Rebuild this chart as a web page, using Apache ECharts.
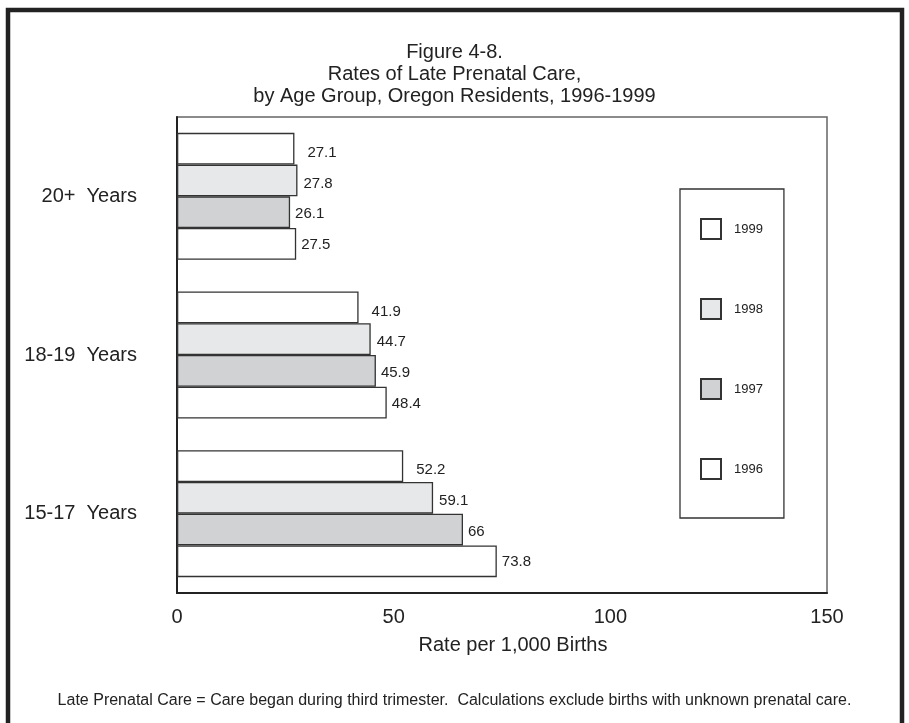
<!DOCTYPE html>
<html>
<head>
<meta charset="utf-8">
<title>Rates of Late Prenatal Care</title>
<script src="https://cdn.jsdelivr.net/npm/echarts@6/dist/echarts.min.js"></script>
<style>
  html, body { margin: 0; padding: 0; background: #fff; }
  #chart { width: 909px; height: 723px; }
</style>
</head>
<body>
<div id="chart"></div>
<script>
// Age groups, listed bottom to top on the category axis
const ageGroups = ['15-17  Years', '18-19  Years', '20+  Years'];

// Late prenatal care rate per 1,000 births, by year (same order as ageGroups)
const rate1999 = [52.2, 41.9, 27.1];
const rate1998 = [59.1, 44.7, 27.8];
const rate1997 = [66, 45.9, 26.1];
const rate1996 = [73.8, 48.4, 27.5];

const years = ['1999', '1998', '1997', '1996'];
const xTicks = [0, 50, 100, 150];

const FONT = "'Liberation Sans', Arial, sans-serif";
const INK = '#222';

const fills = { '1999': '#ffffff', '1998': '#e7e8e9', '1997': '#d1d2d4', '1996': '#ffffff' };
const labelGap = { '1999': 13, '1998': 6, '1997': 5, '1996': 5 };
const labelDrop = { '1999': 4, '1998': 3, '1997': 2, '1996': 1 };

function barSeries(name, values) {
  return {
    name: name,
    type: 'bar',
    data: values,
    barGap: '0%',
    barCategoryGap: '20%',
    itemStyle: { color: fills[name], borderColor: '#333', borderWidth: 1.3 },
    label: {
      show: true,
      position: 'right',
      distance: labelGap[name],
      offset: [0, labelDrop[name]],
      color: INK,
      fontFamily: FONT,
      fontSize: 15
    },
    emphasis: { disabled: true }
  };
}

const chart = echarts.init(document.getElementById('chart'), null, { renderer: 'canvas' });

chart.setOption({
  animation: false,
  backgroundColor: '#fff',
  title: [
    {
      text: 'Figure 4-8.\nRates of Late Prenatal Care,\nby Age Group, Oregon Residents, 1996-1999',
      left: 'center',
      top: 41,
      padding: 0,
      textStyle: { fontFamily: FONT, fontSize: 20, fontWeight: 'normal', color: INK, lineHeight: 22, align: 'center' }
    },
    {
      text: 'Late Prenatal Care = Care began during third trimester.  Calculations exclude births with unknown prenatal care.',
      left: 'center',
      top: 693,
      padding: 0,
      textStyle: { fontFamily: FONT, fontSize: 16, fontWeight: 'normal', color: INK }
    }
  ],
  graphic: [
    {
      type: 'rect',
      shape: { x: 8, y: 10, width: 894, height: 800 },
      style: { fill: 'none', stroke: '#222', lineWidth: 4.5 },
      silent: true
    }
  ],
  legend: {
    data: years,
    orient: 'vertical',
    left: 680,
    top: 189,
    padding: [29, 21, 38, 20],
    itemWidth: 20,
    itemHeight: 20,
    itemGap: 58,
    icon: 'rect',
    borderColor: '#333',
    borderWidth: 1.3,
    selectedMode: false,
    textStyle: { fontFamily: FONT, fontSize: 13, color: INK, padding: [0, 0, 0, 8] }
  },
  grid: {
    left: 177,
    right: 82,
    top: 117,
    bottom: 130,
    show: true,
    borderColor: '#666',
    borderWidth: 1.5,
    containLabel: false
  },
  xAxis: {
    type: 'value',
    min: xTicks[0],
    max: xTicks[xTicks.length - 1],
    interval: xTicks[1] - xTicks[0],
    name: 'Rate per 1,000 Births',
    nameLocation: 'middle',
    nameGap: 42,
    nameTextStyle: { fontFamily: FONT, fontSize: 20, color: INK, padding: [0, 0, 0, 22] },
    axisLine: { show: true, lineStyle: { color: '#222', width: 2 } },
    axisTick: { show: false },
    splitLine: { show: false },
    axisLabel: { fontFamily: FONT, fontSize: 20, color: INK, margin: 14 }
  },
  yAxis: {
    type: 'category',
    data: ageGroups,
    axisLine: { show: true, lineStyle: { color: '#222', width: 2 } },
    axisTick: { show: false },
    splitLine: { show: false },
    axisLabel: { fontFamily: FONT, fontSize: 20, color: INK, margin: 40 }
  },
  series: [
    barSeries('1999', rate1999),
    barSeries('1998', rate1998),
    barSeries('1997', rate1997),
    barSeries('1996', rate1996)
  ]
});
</script>
</body>
</html>
